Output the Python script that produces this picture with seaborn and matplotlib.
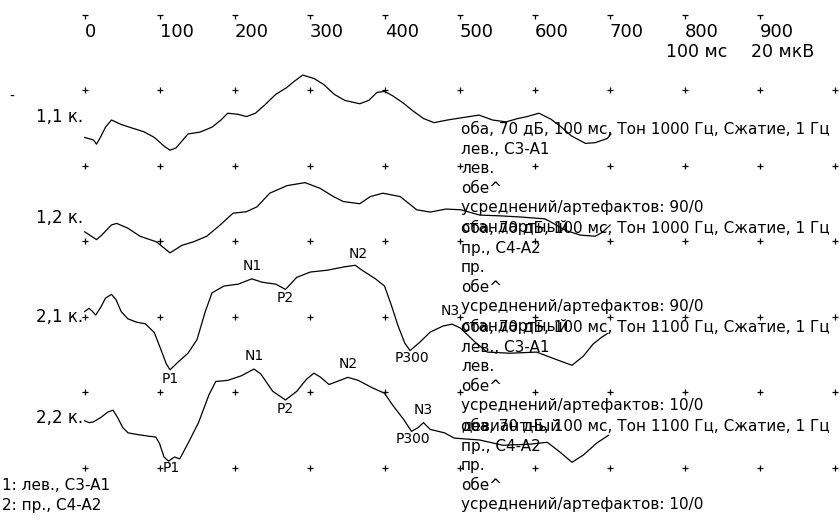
import numpy as np
import pandas as pd
import matplotlib
matplotlib.use("Agg")
import matplotlib.pyplot as plt
import seaborn as sns

# ---------------- data (ms, µV; negative = up) ----------------
t11 = [0, 12, 16, 22, 28, 36, 49, 63, 79, 93, 106, 114, 122, 138, 154, 170, 182, 191, 205, 216,
       228, 241, 255, 269, 280, 291, 306, 319, 333, 347, 367, 379, 390, 400, 411, 425, 438, 452, 466, 484,
       503, 526, 544, 562, 578, 590, 606, 622, 636, 649, 668, 681, 697, 702]
v11 = [4.6, 5.3, 6.4, 4.3, 1.9, 0.0, 1.2, 2.1, 3.1, 4.6, 6.9, 8.0, 7.4, 3.7, 3.2, 1.9, 0.0, -1.8, -1.5, -0.9,
       -1.8, -4.1, -6.8, -8.5, -10.3, -11.9, -11.0, -9.4, -6.8, -5.2, -4.3, -5.2, -7.3, -7.6, -6.4, -4.5, -2.4, -0.4, 0.7, 0.0,
       -0.6, -1.3, 0.0, 0.5, -0.4, -0.9, -1.8, -0.2, 1.9, 4.2, 6.2, 6.0, 4.9, 3.7]

t12 = [0, 16, 23, 36, 43, 58, 74, 96, 114, 130, 145, 163, 181, 198, 216, 230, 247, 270, 294, 314,
       332, 345, 367, 381, 398, 421, 443, 461, 482, 502, 527, 554, 581, 614, 627, 641, 661, 681, 691, 701]
v12 = [3.1, 5.2, 4.0, 1.3, 0.9, 2.2, 4.3, 5.8, 8.7, 6.7, 5.8, 4.3, 1.3, -1.8, -2.2, -3.5, -7.1, -9.1, -9.9, -8.4,
       -6.2, -4.9, -4.3, -6.2, -7.1, -6.2, -2.7, -2.1, -2.9, -2.7, -1.3, -1.1, -0.8, -0.3, 1.1, 2.7, 4.0, 4.3, 3.2, 1.3]

t21 = [0, 6, 10, 15, 22, 28, 36, 42, 49, 58, 70, 81, 93, 102, 109, 114, 125, 138, 150, 161,
       170, 186, 205, 223, 237, 255, 268, 283, 301, 324, 347, 361, 370, 388, 400, 409, 418, 427, 434, 447,
       461, 478, 490, 501, 521, 537, 567, 603, 624, 650, 665, 678, 690, 698]
v21 = [-2.2, -3.1, -2.4, -1.3, -3.5, -5.8, -6.8, -5.4, -2.2, -0.3, 0.6, 1.0, 3.3, 7.9, 11.6, 13.2, 11.1, 8.8, 5.2, -2.2,
       -7.2, -9.0, -9.5, -10.9, -10.0, -9.5, -8.1, -11.3, -12.7, -13.2, -14.1, -14.5, -13.2, -10.9, -9.0, -4.0, 1.5, 6.1, 8.1, 5.9,
       3.2, 1.6, 1.1, 2.1, 5.9, 8.5, 8.8, 8.5, 10.1, 12.0, 9.6, 6.4, 4.5, 3.5]

t22 = [0, 6, 12, 22, 31, 38, 44, 51, 58, 72, 86, 95, 100, 106, 112, 120, 127, 138, 152, 166,
       175, 191, 209, 226, 235, 251, 268, 283, 296, 306, 315, 326, 338, 351, 365, 384, 400, 411, 425, 436,
       445, 452, 461, 480, 493, 527, 558, 594, 617, 634, 650, 665, 683, 699]
v22 = [0.2, 0.7, 0.5, -0.7, -2.1, -2.6, -0.7, 2.0, 3.4, 3.9, 4.3, 4.5, 6.2, 9.8, 10.9, 9.8, 10.3, 6.2, 0.7, -6.7,
       -10.2, -10.5, -11.7, -13.5, -12.2, -7.6, -5.3, -7.6, -10.8, -12.4, -11.3, -9.4, -10.3, -11.3, -10.5, -8.5, -7.1, -3.9, -0.3, 3.0,
       2.0, 0.7, 2.5, 3.4, 4.8, 5.3, 6.7, 6.4, 5.9, 8.5, 11.2, 9.3, 6.1, 4.0]

trace_names = ["1,1 к.", "1,2 к.", "2,1 к.", "2,2 к."]

peaks21 = [("P1", 114), ("N1", 223), ("P2", 268), ("N2", 365), ("P300", 436), ("N3", 488)]
peaks22 = [("P1", 116), ("N1", 226), ("P2", 268), ("N2", 351), ("P300", 438), ("N3", 452)]

x_ticks = [0, 100, 200, 300, 400, 500, 600, 700, 800, 900]
grid_x = [0, 100, 200, 300, 400, 500, 600, 700, 800, 900, 1000]

info_blocks = [
    ["оба, 70 дБ, 100 мс, Тон 1000 Гц, Сжатие, 1 Гц", "лев., C3-A1", "лев.", "обе^",
     "усреднений/артефактов: 90/0", "стандартный"],
    ["оба, 70 дБ, 100 мс, Тон 1000 Гц, Сжатие, 1 Гц", "пр., C4-A2", "пр.", "обе^",
     "усреднений/артефактов: 90/0", "стандартный"],
    ["оба, 70 дБ, 100 мс, Тон 1100 Гц, Сжатие, 1 Гц", "лев., C3-A1", "лев.", "обе^",
     "усреднений/артефактов: 10/0", "девиантный"],
    ["оба, 70 дБ, 100 мс, Тон 1100 Гц, Сжатие, 1 Гц", "пр., C4-A2", "пр.", "обе^",
     "усреднений/артефактов: 10/0"],
]
legend_lines = ["1: лев., C3-A1", "2: пр., C4-A2"]

# ---------------- layout helpers ----------------
K = 3.775          # px per µV (20 µV per grid cell)
PXMS = 0.75        # px per ms
X0 = 84.5          # px of 0 ms


def Y(px):
    return px / K


def XM(px):
    return (px - X0) / PXMS


offsets_px = [120, 220, 320, 420]

sns.set_style("white")
plt.rcParams["font.family"] = ["DejaVu Sans"]
plt.rcParams["text.color"] = "black"

fig = plt.figure(figsize=(8.4, 5.2), dpi=100)
ax = fig.add_axes([0, 0, 1, 1])
ax.set_xlim(XM(0), XM(840))
ax.set_ylim(Y(520), 0)
ax.axis("off")

# grid crosses
for r in [90, 165.5, 241, 316.5, 392, 467.5]:
    ax.plot(grid_x, [Y(r)] * len(grid_x), ls="none", marker="+", ms=4.5, mew=0.9, color="black")

# top tick marks and labels
ax.plot(x_ticks, [Y(15)] * len(x_ticks), ls="none", marker="_", ms=4, mew=0.9, color="black")
ax.plot(x_ticks, [Y(16.8)] * len(x_ticks), ls="none", marker="|", ms=2.5, mew=0.9, color="black")
for t in x_ticks:
    ax.text(t + 0.5, Y(32), str(t), ha="left", va="center", fontsize=13)
ax.text(XM(697), Y(52), "100 мс", ha="center", va="center", fontsize=12.5)
ax.text(XM(782.5), Y(52), "20 мкВ", ha="center", va="center", fontsize=12.5)
ax.text(XM(12), Y(97), "-", ha="center", va="center", fontsize=10)

# traces
series = [(t11, v11), (t12, v12), (t21, v21), (t22, v22)]
frames = []
for i, (t, v) in enumerate(series):
    frames.append(pd.DataFrame({"ms": t, "uv": v, "trace": trace_names[i],
                                "y": np.array(v) + Y(offsets_px[i])}))
df = pd.concat(frames, ignore_index=True)
sns.lineplot(data=df, x="ms", y="y", units="trace", estimator=None, sort=False,
             color="black", lw=0.9, ax=ax)
ax.set_xlabel("")
ax.set_ylabel("")

# trace labels
label_y = [117, 218, 317, 418]
for name, ly in zip(trace_names, label_y):
    ax.text(XM(83), Y(ly), name, ha="right", va="center", fontsize=12)

# peak annotations
for idx, peaks in [(2, peaks21), (3, peaks22)]:
    t, v = series[idx]
    for lab, tp in peaks:
        val = np.interp(tp, t, v) + Y(offsets_px[idx])
        dy = -13 if lab.startswith("N") else 9
        ax.text(tp, val + Y(dy), lab, ha="center", va="center", fontsize=10)

# info text blocks
starts = [129.5, 228.5, 327.5, 426.5]
for s, block in zip(starts, info_blocks):
    for k, line in enumerate(block):
        ax.text(XM(461), Y(s + k * 19.6), line, ha="left", va="center", fontsize=11)

# bottom legend
for k, line in enumerate(legend_lines):
    ax.text(XM(2), Y(486 + k * 19.5), line, ha="left", va="center", fontsize=11)

fig.savefig("out.png", dpi=100, facecolor="white")
